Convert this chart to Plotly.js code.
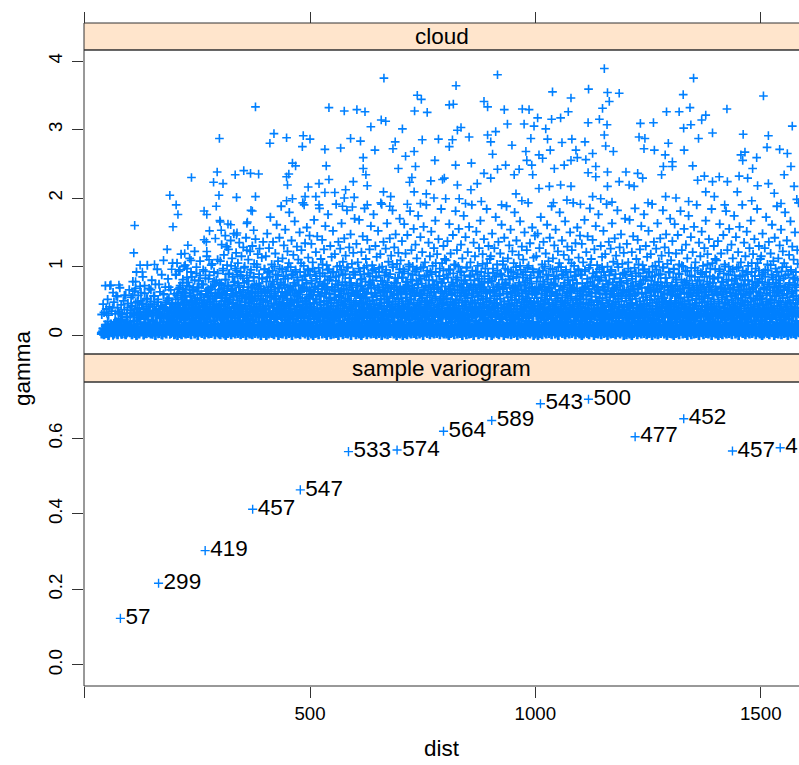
<!DOCTYPE html>
<html>
<head>
<meta charset="utf-8">
<script src="https://cdn.plot.ly/plotly-3.0.1.min.js"></script>
<style>html,body{margin:0;padding:0;background:#fff;overflow:hidden}#chart{width:799px;height:765px}</style>
</head>
<body>
<div id="chart"></div>
<script>
// ---- sample variogram (lower panel) ----
const vgDist = [79.29, 163.97, 267.36, 372.74, 478.48, 585.34, 693.15, 796.18, 903.15, 1011.29, 1117.86, 1221.33, 1329.16, 1437.26, 1543.20];
const vgGamma = [0.1234, 0.2162, 0.3028, 0.4121, 0.4634, 0.5647, 0.5690, 0.6187, 0.6471, 0.6916, 0.7034, 0.6039, 0.6517, 0.5665, 0.5748];
const vgNp = [57, 299, 419, 457, 547, 533, 574, 564, 589, 543, 500, 477, 452, 457, 415];

// ---- variogram cloud (upper panel), dense part ----
const bandDist = [
38,41,43,46,48,51,53,55,58,60,63,65,68,70,73,75,78,81,83,86,88,91,94,96,99,
101,103,105,107,109,111,113,115,117,119,121,123,125,127,129,131,133,135,137,139,141,143,145,147,149,151,153,155,157,159,161,163,165,167,169,171,173,175,177,179,181,183,185,187,189,191,193,195,197,199,
200,202,203,205,206,208,209,211,212,214,215,217,218,220,221,223,224,226,227,229,230,232,233,235,236,238,239,241,242,244,245,247,248,250,251,253,254,256,257,259,260,262,263,265,266,268,269,271,272,274,275,277,278,280,281,283,284,286,287,289,290,292,293,295,296,298,299,
300,301,303,304,306,307,309,310,312,313,315,316,318,319,321,322,324,325,327,328,330,331,333,334,336,337,339,340,342,343,345,346,348,349,351,352,354,355,357,358,360,361,363,364,366,367,369,370,372,373,375,376,378,379,381,382,384,385,387,388,390,391,393,394,396,397,399,
400,402,403,405,406,408,409,411,412,414,415,417,418,420,421,423,424,426,427,429,430,432,433,435,436,438,439,441,442,444,445,447,448,450,451,453,454,456,457,459,460,462,463,465,466,468,469,471,472,474,475,477,478,480,481,483,484,486,487,489,490,492,493,495,496,498,499,
500,501,503,504,506,507,509,510,512,513,515,516,518,519,521,522,524,525,527,528,530,531,533,534,536,537,539,540,542,543,545,546,548,549,551,552,554,555,557,558,560,561,563,564,566,567,569,570,572,573,575,576,578,579,581,582,584,585,587,588,590,591,593,594,596,597,599,
600,602,603,605,606,608,609,611,612,614,615,617,618,620,621,623,624,626,627,629,630,632,633,635,636,638,639,641,642,644,645,647,648,650,651,653,654,656,657,659,660,662,663,665,666,668,669,671,672,674,675,677,678,680,681,683,684,686,687,689,690,692,693,695,696,698,699,
700,701,703,704,706,707,709,710,712,713,715,716,718,719,721,722,724,725,727,728,730,731,733,734,736,737,739,740,742,743,745,746,748,749,751,752,754,755,757,758,760,761,763,764,766,767,769,770,772,773,775,776,778,779,781,782,784,785,787,788,790,791,793,794,796,797,799,
800,802,803,805,806,808,809,811,812,814,815,817,818,820,821,823,824,826,827,829,830,832,833,835,836,838,839,841,842,844,845,847,848,850,851,853,854,856,857,859,860,862,863,865,866,868,869,871,872,874,875,877,878,880,881,883,884,886,887,889,890,892,893,895,896,898,899,
900,901,903,904,906,907,909,910,912,913,915,916,918,919,921,922,924,925,927,928,930,931,933,934,936,937,939,940,942,943,945,946,948,949,951,952,954,955,957,958,960,961,963,964,966,967,969,970,972,973,975,976,978,979,981,982,984,985,987,988,990,991,993,994,996,997,999,
1000,1002,1003,1005,1006,1008,1009,1011,1012,1014,1015,1017,1018,1020,1021,1023,1024,1026,1027,1029,1030,1032,1033,1035,1036,1038,1039,1041,1042,1044,1045,1047,1048,1050,1051,1053,1054,1056,1057,1059,1060,1062,1063,1065,1066,1068,1069,1071,1072,1074,1075,1077,1078,1080,1081,1083,1084,1086,1087,1089,1090,1092,1093,1095,1096,1098,1099,
1100,1101,1103,1104,1106,1107,1109,1110,1112,1113,1115,1116,1118,1119,1121,1122,1124,1125,1127,1128,1130,1131,1133,1134,1136,1137,1139,1140,1142,1143,1145,1146,1148,1149,1151,1152,1154,1155,1157,1158,1160,1161,1163,1164,1166,1167,1169,1170,1172,1173,1175,1176,1178,1179,1181,1182,1184,1185,1187,1188,1190,1191,1193,1194,1196,1197,1199,
1200,1202,1203,1205,1206,1208,1209,1211,1212,1214,1215,1217,1218,1220,1221,1223,1224,1226,1227,1229,1230,1232,1233,1235,1236,1238,1239,1241,1242,1244,1245,1247,1248,1250,1251,1253,1254,1256,1257,1259,1260,1262,1263,1265,1266,1268,1269,1271,1272,1274,1275,1277,1278,1280,1281,1283,1284,1286,1287,1289,1290,1292,1293,1295,1296,1298,1299,
1300,1301,1303,1304,1306,1307,1309,1310,1312,1313,1315,1316,1318,1319,1321,1322,1324,1325,1327,1328,1330,1331,1333,1334,1336,1337,1339,1340,1342,1343,1345,1346,1348,1349,1351,1352,1354,1355,1357,1358,1360,1361,1363,1364,1366,1367,1369,1370,1372,1373,1375,1376,1378,1379,1381,1382,1384,1385,1387,1388,1390,1391,1393,1394,1396,1397,1399,
1400,1402,1403,1405,1406,1408,1409,1411,1412,1414,1415,1417,1418,1420,1421,1423,1424,1426,1427,1429,1430,1432,1433,1435,1436,1438,1439,1441,1442,1444,1445,1447,1448,1450,1451,1453,1454,1456,1457,1459,1460,1462,1463,1465,1466,1468,1469,1471,1472,1474,1475,1477,1478,1480,1481,1483,1484,1486,1487,1489,1490,1492,1493,1495,1496,1498,1499,
1500,1501,1503,1504,1506,1507,1509,1510,1512,1513,1515,1516,1518,1519,1521,1522,1524,1525,1527,1528,1530,1531,1533,1534,1536,1537,1539,1540,1542,1543,1545,1546,1548,1549,1551,1552,1554,1555,1557,1558,1560,1561,1563,1564,1566,1567,1569,1570,1572,1573,1575,1576,1578,1579,1581,1582,1584
];
const lowGamma = [
.02,.05,.01,.08,.03,.12,.00,.06,.15,.04,.09,.02,.18,.07,.01,.11,.05,.22,.03,.14,.08,.01,.26,.06,.10,
.04,.13,.01,.07,.20,.03,.10,.00,.16,.06,.02,.24,.09,.05,.12,.01,.18,.07,.03,.28,.11,.04,.15,.02,.08,.21,.05,.13,.00,.17,.06,.10,.03,.25,.08,.01,.14,.19,.04,.09,.02,.12,.27,.06,.16,.03,.11,.07,.22,.01,
.02,.11,.05,.19,.00,.08,.14,.03,.25,.06,.01,.12,.09,.22,.04,.16,.02,.07,.28,.10,.03,.13,.05,.18,.01,.09,.24,.06,.15,.02,.11,.04,.20,.07,.00,.13,.27,.05,.09,.17,.03,.12,.06,.23,.01,.08,.15,.04,.19,.10,.02,.29,.07,.14,.03,.11,.05,.21,.08,.01,.16,.06,.26,.04,.12,.02,.09,
.07,.01,.15,.04,.10,.23,.02,.06,.13,.00,.18,.08,.03,.27,.11,.05,.09,.01,.20,.14,.04,.07,.25,.02,.12,.06,.17,.03,.10,.29,.05,.01,.14,.08,.21,.03,.11,.06,.16,.00,.09,.24,.04,.13,.02,.18,.07,.10,.01,.22,.05,.15,.03,.08,.28,.06,.12,.02,.19,.04,.10,.00,.14,.26,.07,.03,.17,
.12,.04,.00,.21,.08,.02,.16,.05,.27,.10,.03,.13,.07,.01,.19,.09,.24,.04,.14,.06,.00,.11,.30,.03,.08,.17,.02,.12,.05,.22,.09,.01,.15,.06,.26,.03,.10,.18,.04,.07,.00,.13,.23,.05,.11,.02,.16,.08,.28,.03,.09,.14,.01,.20,.06,.12,.04,.25,.07,.02,.15,.10,.05,.18,.00,.11,.06,
.05,.17,.02,.09,.13,.00,.24,.07,.03,.11,.19,.04,.08,.01,.14,.28,.06,.10,.02,.21,.05,.12,.03,.16,.09,.00,.25,.07,.13,.04,.18,.01,.10,.06,.22,.02,.15,.08,.03,.27,.11,.05,.00,.14,.09,.20,.04,.07,.12,.01,.17,.06,.29,.03,.10,.15,.02,.08,.23,.05,.13,.00,.19,.07,.11,.04,.16,
.07,.01,.15,.04,.10,.23,.02,.06,.13,.00,.18,.08,.03,.27,.11,.05,.09,.01,.20,.14,.04,.07,.25,.02,.12,.06,.17,.03,.10,.29,.05,.01,.14,.08,.21,.03,.11,.06,.16,.00,.09,.24,.04,.13,.02,.18,.07,.10,.01,.22,.05,.15,.03,.08,.28,.06,.12,.02,.19,.04,.10,.00,.14,.26,.07,.03,.17,
.02,.11,.05,.19,.00,.08,.14,.03,.25,.06,.01,.12,.09,.22,.04,.16,.02,.07,.28,.10,.03,.13,.05,.18,.01,.09,.24,.06,.15,.02,.11,.04,.20,.07,.00,.13,.27,.05,.09,.17,.03,.12,.06,.23,.01,.08,.15,.04,.19,.10,.02,.29,.07,.14,.03,.11,.05,.21,.08,.01,.16,.06,.26,.04,.12,.02,.09,
.05,.17,.02,.09,.13,.00,.24,.07,.03,.11,.19,.04,.08,.01,.14,.28,.06,.10,.02,.21,.05,.12,.03,.16,.09,.00,.25,.07,.13,.04,.18,.01,.10,.06,.22,.02,.15,.08,.03,.27,.11,.05,.00,.14,.09,.20,.04,.07,.12,.01,.17,.06,.29,.03,.10,.15,.02,.08,.23,.05,.13,.00,.19,.07,.11,.04,.16,
.12,.04,.00,.21,.08,.02,.16,.05,.27,.10,.03,.13,.07,.01,.19,.09,.24,.04,.14,.06,.00,.11,.30,.03,.08,.17,.02,.12,.05,.22,.09,.01,.15,.06,.26,.03,.10,.18,.04,.07,.00,.13,.23,.05,.11,.02,.16,.08,.28,.03,.09,.14,.01,.20,.06,.12,.04,.25,.07,.02,.15,.10,.05,.18,.00,.11,.06,
.02,.11,.05,.19,.00,.08,.14,.03,.25,.06,.01,.12,.09,.22,.04,.16,.02,.07,.28,.10,.03,.13,.05,.18,.01,.09,.24,.06,.15,.02,.11,.04,.20,.07,.00,.13,.27,.05,.09,.17,.03,.12,.06,.23,.01,.08,.15,.04,.19,.10,.02,.29,.07,.14,.03,.11,.05,.21,.08,.01,.16,.06,.26,.04,.12,.02,.09,
.12,.04,.00,.21,.08,.02,.16,.05,.27,.10,.03,.13,.07,.01,.19,.09,.24,.04,.14,.06,.00,.11,.30,.03,.08,.17,.02,.12,.05,.22,.09,.01,.15,.06,.26,.03,.10,.18,.04,.07,.00,.13,.23,.05,.11,.02,.16,.08,.28,.03,.09,.14,.01,.20,.06,.12,.04,.25,.07,.02,.15,.10,.05,.18,.00,.11,.06,
.07,.01,.15,.04,.10,.23,.02,.06,.13,.00,.18,.08,.03,.27,.11,.05,.09,.01,.20,.14,.04,.07,.25,.02,.12,.06,.17,.03,.10,.29,.05,.01,.14,.08,.21,.03,.11,.06,.16,.00,.09,.24,.04,.13,.02,.18,.07,.10,.01,.22,.05,.15,.03,.08,.28,.06,.12,.02,.19,.04,.10,.00,.14,.26,.07,.03,.17,
.05,.17,.02,.09,.13,.00,.24,.07,.03,.11,.19,.04,.08,.01,.14,.28,.06,.10,.02,.21,.05,.12,.03,.16,.09,.00,.25,.07,.13,.04,.18,.01,.10,.06,.22,.02,.15,.08,.03,.27,.11,.05,.00,.14,.09,.20,.04,.07,.12,.01,.17,.06,.29,.03,.10,.15,.02,.08,.23,.05,.13,.00,.19,.07,.11,.04,.16,
.02,.11,.05,.19,.00,.08,.14,.03,.25,.06,.01,.12,.09,.22,.04,.16,.02,.07,.28,.10,.03,.13,.05,.18,.01,.09,.24,.06,.15,.02,.11,.04,.20,.07,.00,.13,.27,.05,.09,.17,.03,.12,.06,.23,.01,.08,.15,.04,.19,.10,.02,.29,.07,.14,.03,.11,.05,.21,.08,.01,.16,.06,.26,.04,.12,.02,.09,
.12,.04,.00,.21,.08,.02,.16,.05,.27,.10,.03,.13,.07,.01,.19,.09,.24,.04,.14,.06,.00,.11,.30,.03,.08,.17,.02,.12,.05,.22,.09,.01,.15,.06,.26,.03,.10,.18,.04,.07,.00,.13,.23,.05,.11,.02,.16,.08,.28,.03,.09,.14,.01,.20,.06,.12,.04
];
const midGamma1 = [
.30,.45,.33,.72,.38,.52,.29,.41,.73,.35,.62,.48,.31,.57,.40,.34,.69,.44,.30,.50,.37,.58,.32,.46,.66,
.36,.55,.42,.78,.31,.64,.47,.92,.39,.58,.33,.71,.50,.44,.85,.37,.61,.30,.53,1.02,.41,.68,.35,.49,.80,.32,.57,.45,.74,.38,.96,.52,.34,.63,.43,.88,.40,.59,.31,.70,.48,.36,.82,.54,.39,.66,.46,1.05,.33,.60,
.31,.52,.88,.36,.44,.67,.29,.95,.40,.58,.33,.76,.47,.30,.62,1.02,.38,.51,.84,.34,.43,.71,.28,.56,.92,.39,.48,.65,.32,.80,.45,.36,.99,.54,.30,.69,.41,.87,.35,.60,.46,.29,.74,.50,.37,.93,.42,.64,.31,.57,.82,.39,.47,.70,.33,1.04,.53,.44,.78,.30,.61,.49,.35,.90,.40,.66,.32,
.45,.34,.73,.59,.30,.97,.42,.50,.81,.36,.28,.64,.48,.89,.39,.55,.32,1.01,.46,.68,.35,.77,.41,.29,.60,.94,.51,.37,.72,.44,.33,.86,.57,.40,.31,.66,.98,.43,.53,.30,.79,.38,.62,.47,.34,.91,.56,.42,.70,.29,.85,.49,.36,.63,.41,1.03,.32,.58,.75,.45,.38,.67,.30,.83,.52,.39,.96,
.37,.61,.30,.84,.49,.42,.93,.33,.70,.55,.29,.78,.40,.46,1.00,.35,.63,.52,.31,.88,.44,.68,.38,.57,.30,.96,.47,.74,.34,.41,.82,.60,.36,.53,.99,.32,.65,.45,.39,.87,.50,.28,.72,.43,.58,.92,.35,.48,.80,.31,.62,.40,.54,1.05,.37,.69,.44,.33,.86,.51,.29,.76,.46,.39,.94,.56,.34,
.54,.32,.79,.41,.97,.36,.63,.47,.30,.86,.52,.39,.71,.28,.58,.90,.44,.35,.67,1.03,.40,.49,.75,.31,.60,.38,.95,.46,.33,.81,.55,.42,.29,.69,.91,.37,.51,.64,.34,.85,.43,.30,.73,.57,1.01,.39,.48,.66,.32,.88,.45,.36,.77,.53,.41,.98,.30,.61,.50,.83,.35,.44,.70,.38,.92,.47,.59,
.45,.34,.73,.59,.30,.97,.42,.50,.81,.36,.28,.64,.48,.89,.39,.55,.32,1.01,.46,.68,.35,.77,.41,.29,.60,.94,.51,.37,.72,.44,.33,.86,.57,.40,.31,.66,.98,.43,.53,.30,.79,.38,.62,.47,.34,.91,.56,.42,.70,.29,.85,.49,.36,.63,.41,1.03,.32,.58,.75,.45,.38,.67,.30,.83,.52,.39,.96,
.37,.61,.30,.84,.49,.42,.93,.33,.70,.55,.29,.78,.40,.46,1.00,.35,.63,.52,.31,.88,.44,.68,.38,.57,.30,.96,.47,.74,.34,.41,.82,.60,.36,.53,.99,.32,.65,.45,.39,.87,.50,.28,.72,.43,.58,.92,.35,.48,.80,.31,.62,.40,.54,1.05,.37,.69,.44,.33,.86,.51,.29,.76,.46,.39,.94,.56,.34,
.31,.52,.88,.36,.44,.67,.29,.95,.40,.58,.33,.76,.47,.30,.62,1.02,.38,.51,.84,.34,.43,.71,.28,.56,.92,.39,.48,.65,.32,.80,.45,.36,.99,.54,.30,.69,.41,.87,.35,.60,.46,.29,.74,.50,.37,.93,.42,.64,.31,.57,.82,.39,.47,.70,.33,1.04,.53,.44,.78,.30,.61,.49,.35,.90,.40,.66,.32,
.54,.32,.79,.41,.97,.36,.63,.47,.30,.86,.52,.39,.71,.28,.58,.90,.44,.35,.67,1.03,.40,.49,.75,.31,.60,.38,.95,.46,.33,.81,.55,.42,.29,.69,.91,.37,.51,.64,.34,.85,.43,.30,.73,.57,1.01,.39,.48,.66,.32,.88,.45,.36,.77,.53,.41,.98,.30,.61,.50,.83,.35,.44,.70,.38,.92,.47,.59,
.37,.61,.30,.84,.49,.42,.93,.33,.70,.55,.29,.78,.40,.46,1.00,.35,.63,.52,.31,.88,.44,.68,.38,.57,.30,.96,.47,.74,.34,.41,.82,.60,.36,.53,.99,.32,.65,.45,.39,.87,.50,.28,.72,.43,.58,.92,.35,.48,.80,.31,.62,.40,.54,1.05,.37,.69,.44,.33,.86,.51,.29,.76,.46,.39,.94,.56,.34,
.31,.52,.88,.36,.44,.67,.29,.95,.40,.58,.33,.76,.47,.30,.62,1.02,.38,.51,.84,.34,.43,.71,.28,.56,.92,.39,.48,.65,.32,.80,.45,.36,.99,.54,.30,.69,.41,.87,.35,.60,.46,.29,.74,.50,.37,.93,.42,.64,.31,.57,.82,.39,.47,.70,.33,1.04,.53,.44,.78,.30,.61,.49,.35,.90,.40,.66,.32,
.54,.32,.79,.41,.97,.36,.63,.47,.30,.86,.52,.39,.71,.28,.58,.90,.44,.35,.67,1.03,.40,.49,.75,.31,.60,.38,.95,.46,.33,.81,.55,.42,.29,.69,.91,.37,.51,.64,.34,.85,.43,.30,.73,.57,1.01,.39,.48,.66,.32,.88,.45,.36,.77,.53,.41,.98,.30,.61,.50,.83,.35,.44,.70,.38,.92,.47,.59,
.45,.34,.73,.59,.30,.97,.42,.50,.81,.36,.28,.64,.48,.89,.39,.55,.32,1.01,.46,.68,.35,.77,.41,.29,.60,.94,.51,.37,.72,.44,.33,.86,.57,.40,.31,.66,.98,.43,.53,.30,.79,.38,.62,.47,.34,.91,.56,.42,.70,.29,.85,.49,.36,.63,.41,1.03,.32,.58,.75,.45,.38,.67,.30,.83,.52,.39,.96,
.37,.61,.30,.84,.49,.42,.93,.33,.70,.55,.29,.78,.40,.46,1.00,.35,.63,.52,.31,.88,.44,.68,.38,.57,.30,.96,.47,.74,.34,.41,.82,.60,.36,.53,.99,.32,.65,.45,.39,.87,.50,.28,.72,.43,.58,.92,.35,.48,.80,.31,.62,.40,.54,1.05,.37,.69,.44,.33,.86,.51,.29,.76,.46,.39,.94,.56,.34,
.31,.52,.88,.36,.44,.67,.29,.95,.40,.58,.33,.76,.47,.30,.62,1.02,.38,.51,.84,.34,.43,.71,.28,.56,.92,.39,.48,.65,.32,.80,.45,.36,.99,.54,.30,.69,.41,.87,.35,.60,.46,.29,.74,.50,.37,.93,.42,.64,.31,.57,.82,.39,.47,.70,.33,1.04,.53
];
const midGamma2 = [
.04,.09,.01,.13,.06,.02,.10,.03,.16,.07,.00,.11,.05,.19,.02,.08,.12,.04,.01,.14,.06,.09,.03,.17,.05,
.27,.43,.32,.58,.29,.37,.68,.31,.49,.26,.40,.34,.62,.28,.46,.33,.72,.30,.39,.53,.27,.35,.44,.66,.29,.41,.31,.57,.36,.28,.48,.33,.74,.30,.42,.27,.38,.60,.32,.45,.29,.51,.35,.70,.28,.40,.31,.47,.26,.37,
.27,.41,.33,.58,.29,.46,.36,.69,.31,.52,.26,.39,.63,.34,.48,.28,.56,.37,.72,.30,.44,.27,.61,.35,.50,.32,.66,.40,.29,.54,.38,.25,.47,.70,.33,.42,.28,.59,.36,.51,.30,.74,.43,.26,.55,.34,.64,.31,.45,.28,.60,.39,.49,.27,.67,.35,.53,.30,.41,.73,.32,.57,.37,.29,.62,.44,.26,
.35,.28,.54,.43,.31,.68,.38,.26,.49,.60,.33,.45,.29,.71,.40,.52,.27,.36,.65,.30,.47,.57,.34,.25,.62,.42,.31,.75,.39,.50,.28,.44,.58,.32,.37,.66,.26,.48,.41,.30,.55,.35,.70,.29,.46,.38,.27,.63,.51,.33,.40,.73,.28,.56,.36,.45,.31,.67,.42,.26,.53,.34,.61,.39,.29,.48,.64,
.30,.50,.37,.26,.64,.42,.33,.57,.28,.46,.71,.35,.40,.29,.60,.53,.31,.44,.27,.68,.38,.49,.32,.74,.41,.26,.55,.36,.45,.30,.62,.34,.51,.28,.69,.39,.43,.25,.58,.47,.33,.65,.29,.52,.37,.72,.31,.42,.56,.27,.48,.35,.63,.40,.30,.54,.44,.26,.70,.36,.49,.32,.59,.41,.28,.46,.66,
.27,.41,.33,.58,.29,.46,.36,.69,.31,.52,.26,.39,.63,.34,.48,.28,.56,.37,.72,.30,.44,.27,.61,.35,.50,.32,.66,.40,.29,.54,.38,.25,.47,.70,.33,.42,.28,.59,.36,.51,.30,.74,.43,.26,.55,.34,.64,.31,.45,.28,.60,.39,.49,.27,.67,.35,.53,.30,.41,.73,.32,.57,.37,.29,.62,.44,.26,
.30,.50,.37,.26,.64,.42,.33,.57,.28,.46,.71,.35,.40,.29,.60,.53,.31,.44,.27,.68,.38,.49,.32,.74,.41,.26,.55,.36,.45,.30,.62,.34,.51,.28,.69,.39,.43,.25,.58,.47,.33,.65,.29,.52,.37,.72,.31,.42,.56,.27,.48,.35,.63,.40,.30,.54,.44,.26,.70,.36,.49,.32,.59,.41,.28,.46,.66,
.35,.28,.54,.43,.31,.68,.38,.26,.49,.60,.33,.45,.29,.71,.40,.52,.27,.36,.65,.30,.47,.57,.34,.25,.62,.42,.31,.75,.39,.50,.28,.44,.58,.32,.37,.66,.26,.48,.41,.30,.55,.35,.70,.29,.46,.38,.27,.63,.51,.33,.40,.73,.28,.56,.36,.45,.31,.67,.42,.26,.53,.34,.61,.39,.29,.48,.64,
.35,.28,.54,.43,.31,.68,.38,.26,.49,.60,.33,.45,.29,.71,.40,.52,.27,.36,.65,.30,.47,.57,.34,.25,.62,.42,.31,.75,.39,.50,.28,.44,.58,.32,.37,.66,.26,.48,.41,.30,.55,.35,.70,.29,.46,.38,.27,.63,.51,.33,.40,.73,.28,.56,.36,.45,.31,.67,.42,.26,.53,.34,.61,.39,.29,.48,.64,
.30,.50,.37,.26,.64,.42,.33,.57,.28,.46,.71,.35,.40,.29,.60,.53,.31,.44,.27,.68,.38,.49,.32,.74,.41,.26,.55,.36,.45,.30,.62,.34,.51,.28,.69,.39,.43,.25,.58,.47,.33,.65,.29,.52,.37,.72,.31,.42,.56,.27,.48,.35,.63,.40,.30,.54,.44,.26,.70,.36,.49,.32,.59,.41,.28,.46,.66,
.35,.28,.54,.43,.31,.68,.38,.26,.49,.60,.33,.45,.29,.71,.40,.52,.27,.36,.65,.30,.47,.57,.34,.25,.62,.42,.31,.75,.39,.50,.28,.44,.58,.32,.37,.66,.26,.48,.41,.30,.55,.35,.70,.29,.46,.38,.27,.63,.51,.33,.40,.73,.28,.56,.36,.45,.31,.67,.42,.26,.53,.34,.61,.39,.29,.48,.64,
.27,.41,.33,.58,.29,.46,.36,.69,.31,.52,.26,.39,.63,.34,.48,.28,.56,.37,.72,.30,.44,.27,.61,.35,.50,.32,.66,.40,.29,.54,.38,.25,.47,.70,.33,.42,.28,.59,.36,.51,.30,.74,.43,.26,.55,.34,.64,.31,.45,.28,.60,.39,.49,.27,.67,.35,.53,.30,.41,.73,.32,.57,.37,.29,.62,.44,.26,
.30,.50,.37,.26,.64,.42,.33,.57,.28,.46,.71,.35,.40,.29,.60,.53,.31,.44,.27,.68,.38,.49,.32,.74,.41,.26,.55,.36,.45,.30,.62,.34,.51,.28,.69,.39,.43,.25,.58,.47,.33,.65,.29,.52,.37,.72,.31,.42,.56,.27,.48,.35,.63,.40,.30,.54,.44,.26,.70,.36,.49,.32,.59,.41,.28,.46,.66,
.30,.50,.37,.26,.64,.42,.33,.57,.28,.46,.71,.35,.40,.29,.60,.53,.31,.44,.27,.68,.38,.49,.32,.74,.41,.26,.55,.36,.45,.30,.62,.34,.51,.28,.69,.39,.43,.25,.58,.47,.33,.65,.29,.52,.37,.72,.31,.42,.56,.27,.48,.35,.63,.40,.30,.54,.44,.26,.70,.36,.49,.32,.59,.41,.28,.46,.66,
.27,.41,.33,.58,.29,.46,.36,.69,.31,.52,.26,.39,.63,.34,.48,.28,.56,.37,.72,.30,.44,.27,.61,.35,.50,.32,.66,.40,.29,.54,.38,.25,.47,.70,.33,.42,.28,.59,.36,.51,.30,.74,.43,.26,.55,.34,.64,.31,.45,.28,.60,.39,.49,.27,.67,.35,.53,.30,.41,.73,.32,.57,.37,.29,.62,.44,.26,
.35,.28,.54,.43,.31,.68,.38,.26,.49,.60,.33,.45,.29,.71,.40,.52,.27,.36,.65,.30,.47,.57,.34,.25,.62,.42,.31,.75,.39,.50,.28,.44,.58,.32,.37,.66,.26,.48,.41,.30,.55,.35,.70,.29,.46,.38,.27,.63,.51,.33,.40,.73,.28,.56,.36,.45,.31
];
const upperGamma = [
.03,.10,.01,.15,.06,.20,.02,.08,.12,.04,.00,.17,.07,.03,.11,.24,.05,.01,.09,.14,.02,.06,.19,.04,.08,
.06,.14,.02,.09,.21,.04,.11,.01,.16,.07,.03,.26,.10,.05,.13,.00,.18,.08,.02,.12,.23,.06,.15,.03,.09,.01,.20,.11,.04,.17,.07,.02,.13,.27,.05,.10,.00,.15,.08,.03,.19,.12,.06,.24,.01,.09,.14,.04,.22,.07,
.42,.88,.35,1.05,.61,.47,.93,.38,.72,1.18,.33,.55,.81,.44,1.00,.36,.66,.50,.97,.31,.77,.45,1.12,.58,.39,.85,.48,.69,.34,1.22,.53,.41,.90,.63,.37,.79,.46,1.08,.32,.59,.74,.43,.95,.51,.35,.83,.40,1.15,.57,.67,.30,.87,.49,.62,1.02,.38,.71,.45,.92,.54,.36,.80,.42,1.10,.60,.33,.76,
.62,1.08,.75,1.32,.55,.94,1.17,.68,1.45,.81,.58,1.02,.73,1.25,.90,.52,1.38,.66,1.12,.85,.60,1.48,.78,.97,1.20,.57,.88,1.05,.70,1.35,.63,.92,1.15,.54,.83,1.28,.76,1.00,.59,1.42,.87,.65,1.10,.79,.53,1.22,.95,.69,1.30,.61,.84,1.04,.56,1.40,.74,.99,1.18,.64,.89,1.26,.71,.51,1.13,.82,1.36,.67,.96,
.62,1.15,.78,1.48,.91,.70,1.27,.85,1.72,.66,1.03,.94,1.36,.74,.58,1.19,.88,1.61,.81,1.08,.69,1.42,.97,.77,1.88,.63,1.12,.86,1.31,.72,1.54,.93,.60,1.22,.83,1.05,1.79,.71,.99,1.38,.67,.89,1.17,.76,1.66,.95,.61,1.29,.84,1.10,.73,1.50,.92,.65,1.24,.80,1.93,1.01,.68,1.34,.87,.75,1.57,.96,1.13,.64,1.45,
.88,.64,1.33,.75,1.06,.59,1.68,.93,.71,1.21,.82,1.44,.67,.98,1.85,.78,1.11,.62,1.39,.90,.73,1.25,.86,1.59,.69,1.02,.80,1.76,.96,.61,1.30,.84,1.14,.70,1.52,.92,.66,1.18,.79,1.91,1.00,.74,1.36,.87,.63,1.26,.95,1.63,.77,1.07,.68,1.41,.89,1.16,.72,1.82,.99,.60,1.28,.83,1.47,.76,1.04,.65,1.20,.91,1.70,
.88,.64,1.33,.75,1.06,.59,1.68,.93,.71,1.21,.82,1.44,.67,.98,1.85,.78,1.11,.62,1.39,.90,.73,1.25,.86,1.59,.69,1.02,.80,1.76,.96,.61,1.30,.84,1.14,.70,1.52,.92,.66,1.18,.79,1.91,1.00,.74,1.36,.87,.63,1.26,.95,1.63,.77,1.07,.68,1.41,.89,1.16,.72,1.82,.99,.60,1.28,.83,1.47,.76,1.04,.65,1.20,.91,1.70,
.71,1.09,.63,1.37,.84,.96,1.62,.68,1.19,.77,.59,1.46,.90,1.03,.66,1.81,.81,1.24,.73,1.00,1.55,.62,.93,1.32,.79,1.12,.69,1.74,.87,.60,1.43,.98,.75,1.21,.65,1.58,.85,1.06,.72,1.90,.94,.61,1.35,.80,1.15,.67,1.51,.89,1.01,.74,1.27,.63,1.67,.92,.78,1.18,.70,1.40,.86,.97,.64,1.84,1.05,.76,1.30,.82,1.11,
.71,1.09,.63,1.37,.84,.96,1.62,.68,1.19,.77,.59,1.46,.90,1.03,.66,1.81,.81,1.24,.73,1.00,1.55,.62,.93,1.32,.79,1.12,.69,1.74,.87,.60,1.43,.98,.75,1.21,.65,1.58,.85,1.06,.72,1.90,.94,.61,1.35,.80,1.15,.67,1.51,.89,1.01,.74,1.27,.63,1.67,.92,.78,1.18,.70,1.40,.86,.97,.64,1.84,1.05,.76,1.30,.82,1.11,
.62,1.15,.78,1.48,.91,.70,1.27,.85,1.72,.66,1.03,.94,1.36,.74,.58,1.19,.88,1.61,.81,1.08,.69,1.42,.97,.77,1.88,.63,1.12,.86,1.31,.72,1.54,.93,.60,1.22,.83,1.05,1.79,.71,.99,1.38,.67,.89,1.17,.76,1.66,.95,.61,1.29,.84,1.10,.73,1.50,.92,.65,1.24,.80,1.93,1.01,.68,1.34,.87,.75,1.57,.96,1.13,.64,1.45,
.62,1.15,.78,1.48,.91,.70,1.27,.85,1.72,.66,1.03,.94,1.36,.74,.58,1.19,.88,1.61,.81,1.08,.69,1.42,.97,.77,1.88,.63,1.12,.86,1.31,.72,1.54,.93,.60,1.22,.83,1.05,1.79,.71,.99,1.38,.67,.89,1.17,.76,1.66,.95,.61,1.29,.84,1.10,.73,1.50,.92,.65,1.24,.80,1.93,1.01,.68,1.34,.87,.75,1.57,.96,1.13,.64,1.45,
.88,.64,1.33,.75,1.06,.59,1.68,.93,.71,1.21,.82,1.44,.67,.98,1.85,.78,1.11,.62,1.39,.90,.73,1.25,.86,1.59,.69,1.02,.80,1.76,.96,.61,1.30,.84,1.14,.70,1.52,.92,.66,1.18,.79,1.91,1.00,.74,1.36,.87,.63,1.26,.95,1.63,.77,1.07,.68,1.41,.89,1.16,.72,1.82,.99,.60,1.28,.83,1.47,.76,1.04,.65,1.20,.91,1.70,
.88,.64,1.33,.75,1.06,.59,1.68,.93,.71,1.21,.82,1.44,.67,.98,1.85,.78,1.11,.62,1.39,.90,.73,1.25,.86,1.59,.69,1.02,.80,1.76,.96,.61,1.30,.84,1.14,.70,1.52,.92,.66,1.18,.79,1.91,1.00,.74,1.36,.87,.63,1.26,.95,1.63,.77,1.07,.68,1.41,.89,1.16,.72,1.82,.99,.60,1.28,.83,1.47,.76,1.04,.65,1.20,.91,1.70,
.71,1.09,.63,1.37,.84,.96,1.62,.68,1.19,.77,.59,1.46,.90,1.03,.66,1.81,.81,1.24,.73,1.00,1.55,.62,.93,1.32,.79,1.12,.69,1.74,.87,.60,1.43,.98,.75,1.21,.65,1.58,.85,1.06,.72,1.90,.94,.61,1.35,.80,1.15,.67,1.51,.89,1.01,.74,1.27,.63,1.67,.92,.78,1.18,.70,1.40,.86,.97,.64,1.84,1.05,.76,1.30,.82,1.11,
.71,1.09,.63,1.37,.84,.96,1.62,.68,1.19,.77,.59,1.46,.90,1.03,.66,1.81,.81,1.24,.73,1.00,1.55,.62,.93,1.32,.79,1.12,.69,1.74,.87,.60,1.43,.98,.75,1.21,.65,1.58,.85,1.06,.72,1.90,.94,.61,1.35,.80,1.15,.67,1.51,.89,1.01,.74,1.27,.63,1.67,.92,.78,1.18,.70,1.40,.86,.97,.64,1.84,1.05,.76,1.30,.82,1.11,
.62,1.15,.78,1.48,.91,.70,1.27,.85,1.72,.66,1.03,.94,1.36,.74,.58,1.19,.88,1.61,.81,1.08,.69,1.42,.97,.77,1.88,.63,1.12,.86,1.31,.72,1.54,.93,.60,1.22,.83,1.05,1.79,.71,.99,1.38,.67,.89,1.17,.76,1.66,.95,.61,1.29,.84,1.10,.73,1.50,.92,.65,1.24,.80,1.93
];
// individually readable cloud points (upper part)
const outlierDist = [
379,299,237,294,286,307,334,353,368,386,189,203,207,298,337,379,292,265,271,111,196,372,300,318,277,303,337,360,109,183,229,270,314,222,123,175,155,193,56,76,49,78,290,265,316,301,338,360,375,236,271,276,369,361,324,73,88,113,128,62,95,
664,738,747,542,576,604,622,732,760,658,668,635,705,420,411,448,485,500,483,590,612,533,568,644,689,684,749,785,618,712,731,777,461,468,536,618,696,734,453,448,624,542,596,726,721,768,794,450,496,520,627,579,663,448,461,489,513,533,555,598,576,679,731,758,487,520,572,594,627,657,677,716,745,775,
916,1153,824,1038,1118,1160,1186,1079,1164,809,818,886,894,931,971,986,1149,1073,1005,1036,1056,938,975,997,1023,1117,1142,1159,827,835,912,894,853,990,1027,1059,1081,1110,1153,816,809,901,948,1156,1173,905,979,1008,1033,1090,1093,1127,1112,823,858,934,981,992,1016,1079,1134,798,886,916,953,964,994,1042,1064,1117,1160,1186,827,871,901,1056,1079,1134,1160,801,831,857,957,1008,1031,1127,1145,845,880,925,970,1040,1070,1100,1170,
1351,1328,1506,1291,1319,1343,1378,1369,1425,1233,1262,1329,1345,1570,1230,1243,1295,1362,1393,1461,1517,1241,1264,1288,1330,1514,1542,1559,1456,1465,1491,1460,1304,1284,1304,1280,1349,1482,1552,1567,1201,1227,1238,1360,1375,1408,1426,1452,1471,1208,1393,1493,1517,1574,1378,1448,1219,1289,1312,1397,1530,1250,1340,1420,1480,1545,1580
];
const outlierGamma = [
3.33,2.87,2.30,2.38,2.23,2.21,2.34,2.40,2.36,2.35,2.04,1.90,1.76,2.04,2.01,2.02,1.88,1.81,1.76,1.60,1.58,1.81,1.67,1.62,1.52,1.53,1.46,1.63,1.20,1.25,1.31,1.36,1.29,1.19,1.02,1.09,1.03,0.96,0.72,0.73,0.32,0.32,1.41,1.39,1.29,1.65,1.49,1.24,1.53,1.09,1.22,1.10,1.82,1.65,1.61,0.56,0.58,0.78,0.92,0.40,0.40,
3.75,3.50,3.44,3.32,3.27,3.29,3.26,3.27,3.25,3.14,3.12,3.04,3.01,2.94,2.80,2.88,2.91,2.86,2.75,2.87,2.83,2.71,2.73,2.70,2.82,2.72,2.85,2.86,2.59,2.61,2.68,2.55,2.51,2.47,2.47,2.43,2.43,2.46,2.35,2.31,2.34,2.27,2.24,2.30,2.23,2.25,2.27,2.19,2.16,2.21,2.18,2.12,2.09,1.96,1.99,2.02,2.02,2.08,2.08,2.01,2.00,2.02,2.09,2.06,1.90,1.90,1.88,1.87,1.90,1.93,1.88,1.91,1.92,2.00,
3.80,3.89,3.64,3.55,3.59,3.54,3.53,3.46,3.41,3.36,3.37,3.41,3.33,3.29,3.30,3.29,3.31,3.26,3.17,3.15,3.17,3.08,3.08,3.05,3.01,3.10,3.15,3.07,2.99,3.03,2.97,2.92,2.89,2.87,2.86,2.81,2.86,2.82,2.92,2.85,2.75,2.82,2.77,2.76,2.68,2.64,2.68,2.63,2.70,2.70,2.59,2.65,2.56,2.48,2.51,2.48,2.55,2.48,2.58,2.55,2.46,2.29,2.36,2.42,2.34,2.42,2.34,2.43,2.48,2.37,2.38,2.24,2.19,2.21,2.29,2.19,2.17,2.31,2.17,1.99,1.99,2.12,2.06,2.14,2.17,2.02,1.99,1.92,1.95,1.90,1.96,1.93,1.97,1.91,1.94,
3.75,3.51,3.49,3.26,3.26,3.32,3.21,3.14,3.30,3.09,3.10,3.02,3.07,3.05,2.89,2.87,2.80,2.87,2.95,2.93,2.91,2.72,2.70,2.63,2.70,2.74,2.71,2.65,2.63,2.67,2.59,2.55,2.53,2.46,2.46,2.34,2.47,2.43,2.34,2.46,2.38,2.36,2.29,2.26,2.32,2.31,2.24,2.32,2.29,2.19,2.24,2.18,2.21,2.17,2.09,2.09,2.17,2.02,2.00,2.02,2.07,1.93,1.95,1.90,1.96,1.92,1.98
];

// axis ticks
const xTickVals = [0, 500, 1000, 1500];
const xTickText = ['', '500', '1000', '1500'];
const cloudTickVals = [0, 1, 2, 3, 4];
const vgTickVals = [0, 0.2, 0.4, 0.6];
const vgTickText = ['0.0', '0.2', '0.4', '0.6'];
const panelNames = ['cloud', 'sample variogram'];

const FONT = "'Liberation Sans', Arial, Helvetica, sans-serif";
const BLUE = '#0080ff';
const LINE = '#333333';

function crossMarker(size, width) {
  return {symbol: 'cross-thin', size: size, color: BLUE, line: {color: BLUE, width: width}};
}

const traces = [
  {type: 'scatter', mode: 'markers', x: bandDist, y: lowGamma, xaxis: 'x2', yaxis: 'y2',
   marker: crossMarker(7, 2.7), hoverinfo: 'skip'},
  {type: 'scatter', mode: 'markers', x: bandDist.concat(bandDist, bandDist), y: midGamma1.concat(midGamma2, upperGamma),
   xaxis: 'x2', yaxis: 'y2', marker: crossMarker(6.4, 1.8), hoverinfo: 'skip'},
  {type: 'scatter', mode: 'markers', x: outlierDist, y: outlierGamma, xaxis: 'x2', yaxis: 'y2',
   marker: crossMarker(6.2, 1.6), hoverinfo: 'skip'},
  {type: 'scatter', mode: 'markers+text', x: vgDist, y: vgGamma, xaxis: 'x', yaxis: 'y',
   text: vgNp.map(String), textposition: 'middle right',
   textfont: {family: FONT, size: 22.5, color: '#000'},
   marker: crossMarker(6.5, 1.4), hoverinfo: 'skip'}
];

const xr = [-1.45, 1584.9];
const commonX = {range: xr, tickvals: xTickVals, ticktext: xTickText, ticks: 'outside', ticklen: 11,
  tickwidth: 1, tickcolor: LINE, showgrid: false, zeroline: false, showline: false,
  tickfont: {family: FONT, size: 18.7, color: '#000'}, automargin: false, fixedrange: true};
const commonY = {ticks: 'outside', ticklen: 11, tickwidth: 1, tickcolor: LINE, showgrid: false,
  zeroline: false, showline: false, tickangle: -90, ticklabelstandoff: 3,
  tickfont: {family: FONT, size: 18.7, color: '#000'}, automargin: false, fixedrange: true};

const dBot = [0, 0.45852], sBot = [0.45852, 0.50075], dTop = [0.50075, 0.95928], sTop = [0.95928, 1];

function rect(y0, y1, fill) {
  return {type: 'rect', xref: 'paper', yref: 'paper', x0: 0, x1: 1.03, y0: y0, y1: y1,
    fillcolor: fill || 'rgba(0,0,0,0)', line: {color: LINE, width: 1}, layer: 'above'};
}

const layout = {
  width: 799, height: 765,
  margin: {l: 84, r: 0, t: 23, b: 79, pad: 0},
  paper_bgcolor: '#ffffff', plot_bgcolor: 'rgba(0,0,0,0)',
  showlegend: false,
  font: {family: FONT, color: '#000'},
  xaxis: Object.assign({}, commonX, {domain: [0, 1], anchor: 'y'}),
  xaxis2: Object.assign({}, commonX, {domain: [0, 1], anchor: 'free', position: 1, side: 'top', showticklabels: false}),
  yaxis: Object.assign({}, commonY, {domain: dBot, anchor: 'x', range: [-0.0556, 0.749], tickvals: vgTickVals, ticktext: vgTickText}),
  yaxis2: Object.assign({}, commonY, {domain: dTop, anchor: 'x2', range: [-0.277, 4.161], tickvals: cloudTickVals}),
  shapes: [
    rect(sTop[0], sTop[1], '#ffe5cc'),
    rect(sBot[0], sBot[1], '#ffe5cc'),
    rect(dTop[0], dTop[1]),
    rect(dBot[0], dBot[1])
  ],
  annotations: [
    {text: panelNames[0], xref: 'paper', yref: 'paper', x: 0.5, y: (sTop[0] + sTop[1]) / 2, xanchor: 'center', yanchor: 'middle',
     showarrow: false, font: {family: FONT, size: 22.5, color: '#000'}},
    {text: panelNames[1], xref: 'paper', yref: 'paper', x: 0.5, y: (sBot[0] + sBot[1]) / 2, xanchor: 'center', yanchor: 'middle',
     showarrow: false, font: {family: FONT, size: 22.5, color: '#000'}},
    {text: 'dist', xref: 'paper', yref: 'paper', x: 0.5, y: -0.095, xanchor: 'center', yanchor: 'middle',
     showarrow: false, font: {family: FONT, size: 22.5, color: '#000'}},
    {text: 'gamma', xref: 'paper', yref: 'paper', x: -0.0867, y: 0.4796, xanchor: 'center', yanchor: 'middle',
     textangle: -90, showarrow: false, font: {family: FONT, size: 22.5, color: '#000'}}
  ]
};

Plotly.newPlot('chart', traces, layout, {displayModeBar: false, staticPlot: true});
</script>
</body>
</html>
